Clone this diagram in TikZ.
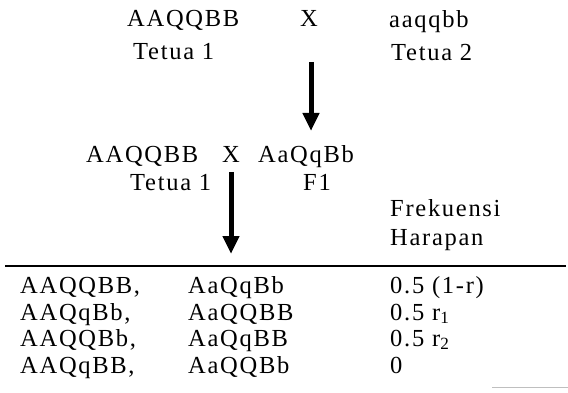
\documentclass[tikz,border=0pt]{standalone}
\usepackage{fontspec}
\setmainfont[LetterSpace=7]{Liberation Serif}
\usetikzlibrary{arrows.meta}
\begin{document}
\begin{tikzpicture}[x=1pt,y=-1pt,
  lbl/.style={anchor=base west,inner sep=0pt,font=\fontsize{24.5}{26}\selectfont},
  bigarrow/.style={line width=5pt,-{Triangle[length=18pt,width=16pt]}},
  rule/.style={line width=1.2pt}]
\useasboundingbox (0,0) rectangle (568,393);
% first cross: parents
\node[lbl] (p1) at (127,27) {AAQQBB};
\node[lbl] (x1) at (300,27) {X};
\node[lbl] (p2) at (389,28) {aaqqbb};
\node[lbl] (t1) at (133,60) {Tetua 1};
\node[lbl] (t2) at (391,61) {Tetua 2};
\coordinate (a1s) at (311,62);
\coordinate (a1e) at (311,131);
\draw[bigarrow] (a1s) -- (a1e);
% backcross
\node[lbl] (q1) at (86,163) {AAQQBB};
\node[lbl] (x2) at (222,163) {X};
\node[lbl] (q2) at (258,163) {AaQqBb};
\node[lbl] (t3) at (130,191) {Tetua 1};
\node[lbl] (f1) at (303,191) {F1};
\coordinate (a2s) at (231,172);
\coordinate (a2e) at (231,254);
\draw[bigarrow] (a2s) -- (a2e);
% table header
\node[lbl] (h1) at (390,217) {Frekuensi};
\node[lbl] (h2) at (390,245) {Harapan};
\coordinate (ls) at (5,266);
\coordinate (le) at (566,266);
\draw[rule] (ls) -- (le);
% table body
\node[lbl] (r1a) at (20,293) {AAQQBB,};
\node[lbl] (r1b) at (188,293) {AaQqBb};
\node[lbl] (r1c) at (390,293) {0.5 (1-r)};
\node[lbl] (r2a) at (20,320) {AAQqBb,};
\node[lbl] (r2b) at (188,320) {AaQQBB};
\node[lbl] (r2c) at (390,320) {0.5 r\textsubscript{1}};
\node[lbl] (r3a) at (20,346) {AAQQBb,};
\node[lbl] (r3b) at (188,346) {AaQqBB};
\node[lbl] (r3c) at (390,346) {0.5 r\textsubscript{2}};
\node[lbl] (r4a) at (20,373) {AAQqBB,};
\node[lbl] (r4b) at (188,373) {AaQQBb};
\node[lbl] (r4c) at (390,373) {0};
\coordinate (gs) at (492,387);
\coordinate (ge) at (568,387);
\draw[gray!50,line width=0.8pt] (gs) -- (ge);
\end{tikzpicture}
\end{document}
